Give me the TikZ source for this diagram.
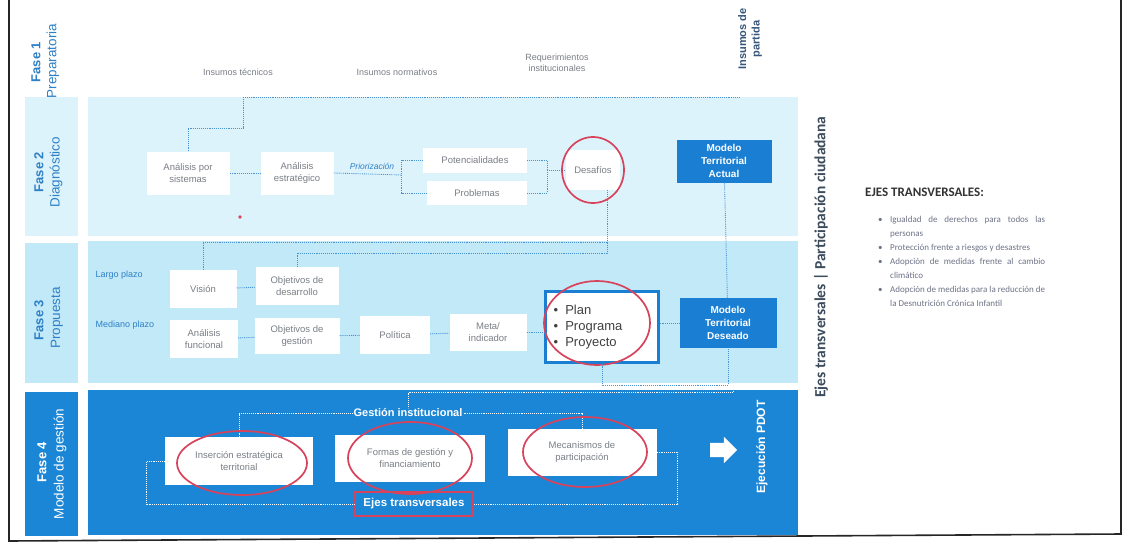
\documentclass[tikz,border=0pt]{standalone}
\usepackage{fontspec}
\setmainfont{Liberation Sans}
\newfontfamily\carl{Carlito}
\usetikzlibrary{shapes.arrows}
\definecolor{bandA}{HTML}{DDF3FB}
\definecolor{bandB}{HTML}{C2E9F8}
\definecolor{bandC}{HTML}{1C86D6}
\definecolor{mblue}{HTML}{1A7ED2}
\definecolor{lblue}{HTML}{2E80C6}
\definecolor{ringred}{HTML}{D8435C}
\definecolor{boxtxt}{HTML}{7A7F86}
\definecolor{connc}{HTML}{4A93D2}
\definecolor{slate}{HTML}{3C4C5C}
\definecolor{partc}{HTML}{35557A}
\definecolor{bullt}{HTML}{6E7386}
\begin{document}
\begin{tikzpicture}[x=1pt,y=-1pt,
  box/.style={fill=white, align=center, inner sep=1pt, font=\fontsize{9.5}{12}\selectfont, text=boxtxt},
  model/.style={fill=mblue, text=white, align=center, font=\bfseries\fontsize{10}{13}\selectfont, inner sep=0pt},
  conn/.style={draw=connc, densely dotted, line width=0.9pt},
  wconn/.style={draw=white, densely dotted, line width=0.9pt},
  ring/.style={draw=ringred, line width=1.7pt},
  phb/.style={rotate=90, font=\bfseries\fontsize{13}{15}\selectfont},
  phr/.style={rotate=90, font=\fontsize{13.5}{15}\selectfont},
  intext/.style={font=\fontsize{9}{11}\selectfont, text=boxtxt, align=center},
  horiz/.style={font=\fontsize{9}{11}\selectfont, text=lblue, anchor=west},
  wbold/.style={text=white, font=\bfseries\fontsize{11}{13}\selectfont, inner sep=1pt}
]
\clip (0,0) rectangle (1125,552);
\fill[white] (0,0) rectangle (1125,552);
% frame
\draw[line width=1.6pt, black!85] (9,-5) -- (9,541) -- (1121,534) -- (1121,-5);

% bands
\fill[bandA] (25,97) rectangle (78,236);
\fill[bandA] (88,97) rectangle (798,236);
\fill[bandB] (25,243) rectangle (78,383);
\fill[bandB] (88,241) rectangle (798,383);
\fill[bandC] (25,392) rectangle (78,536);
\fill[bandC] (88,390) rectangle (798,535);

% phase labels
\node[phb, text=lblue] (f1a) at (36,62) {Fase 1};
\node[phr, text=lblue] (f1b) at (53,61) {Preparatoria};
\node[phb, text=lblue] (f2a) at (39,172) {Fase 2};
\node[phr, text=lblue] (f2b) at (56,172) {Diagnóstico};
\node[phb, text=lblue] (f3a) at (39,320) {Fase 3};
\node[phr, text=lblue] (f3b) at (57,318) {Propuesta};
\node[phb, text=white] (f4a) at (42,462) {Fase 4};
\node[phr, text=white] (f4b) at (60,464) {Modelo de gestión};

% phase 1 inputs
\node[intext] (itec) at (238,72) {Insumos técnicos};
\node[intext] (inor) at (397,72) {Insumos normativos};
\node[intext] (ireq) at (557,63) {Requerimientos\\institucionales};
\node[rotate=90, align=center, text=partc, font=\bfseries\fontsize{11}{13.5}\selectfont] (ipar) at (750,39) {Insumos de\\partida};
\coordinate (j1) at (243,97);
\coordinate (j2) at (740,97);

% phase 2
\node[box, minimum width=83, minimum height=43] (asis) at (188,173) {Análisis por\\sistemas};
\node[box, minimum width=73, minimum height=43] (aest) at (297,173) {Análisis\\estratégico};
\node[text=lblue, font=\itshape\fontsize{8.5}{10}\selectfont, inner sep=1pt] (prio) at (372,166) {Priorización};
\node[box, minimum width=104, minimum height=25] (pot) at (475,160) {Potencialidades};
\node[box, minimum width=100, minimum height=24] (prob) at (477,193) {Problemas};
\node[box, fill=white, minimum width=54, minimum height=40] (des) at (593,170) {Desafíos};
\node[model, minimum width=95, minimum height=43] (mta) at (724,161) {Modelo\\Territorial\\Actual};
\fill[ringred] (240,217) circle (1.8);

\draw[conn] (j1) -- (j2);
\draw[conn] (j1) -- (243,128) -| (asis.north);
\draw[conn] (asis) -- (aest);
\draw[conn] (aest.east) -- (402,175);
\draw[conn] (pot.west) -- ++(-21,0) |- (prob.west);
\draw[conn] (pot.east) -- ++(20,0) coordinate (b2) |- (prob.east);
\draw[conn] (b2 |- des.west) -- (des.west);
\draw[ring] (des.center) ellipse [x radius=31, y radius=33];

% phase 3
\node[horiz] (lp) at (92,275) {Largo plazo};
\node[horiz] (mp) at (92,325) {Mediano plazo};
\node[box, minimum width=67, minimum height=38] (vis) at (203,289) {Visión};
\node[box, minimum width=83, minimum height=38] (obd) at (297,286) {Objetivos de\\desarrollo};
\node[box, minimum width=68, minimum height=38] (afun) at (204,339) {Análisis\\funcional};
\node[box, minimum width=85, minimum height=36] (obg) at (297,336) {Objetivos de\\gestión};
\node[box, minimum width=70, minimum height=38] (pol) at (395,335) {Política};
\node[box, minimum width=77, minimum height=37] (meta) at (488,332) {Meta/\\indicador};
\node[draw=mblue, line width=2.2pt, fill=white, minimum width=113, minimum height=71, inner sep=0pt] (plan) at (602,327) {};
\node[anchor=west, align=left, text=black!75, font=\fontsize{13}{16}\selectfont] (plist) at (550,327) {\textbullet\ \ Plan\\\textbullet\ \ Programa\\\textbullet\ \ Proyecto};
\node[model, minimum width=97, minimum height=50] (mtd) at (728,323) {Modelo\\Territorial\\Deseado};

\draw[conn] (des.south -| 607,0) -- (607,253) -| (obd.north);
\draw[conn] (607,242) -| (vis.north);
\draw[conn] (mta) -- (mtd);
\draw[conn] (vis) -- (obd);
\draw[conn] (afun) -- (obg);
\draw[conn] (obg) -- (pol);
\draw[conn] (pol) -- (meta);
\draw[conn] (meta.east) -- (plan.west |- meta.east);
\draw[conn] (plan.east |- mtd.west) -- (mtd.west);
\draw[ring] ([xshift=-5pt, yshift=4pt]plan.center) ellipse [x radius=53, y radius=42];
\draw[conn] (plan.south) -- (602,385) -| (mtd.south);

% phase 4
\node[wbold] (gi) at (408,413) {Gestión institucional};
\node[box, minimum width=148, minimum height=48] (ins) at (239,461) {Inserción estratégica\\territorial};
\node[box, minimum width=150, minimum height=47] (form) at (410,458) {Formas de gestión y\\financiamiento};
\node[box, minimum width=149, minimum height=47] (mec) at (582,452) {Mecanismos de\\participación};
\node[wbold, draw=ringred, line width=1.5pt, minimum width=118, minimum height=24, font=\bfseries\fontsize{11.5}{13}\selectfont] (ejes) at (414,504) {Ejes transversales};
\node[single arrow, fill=white, inner xsep=0pt, inner ysep=7pt, minimum height=27pt, single arrow head extend=6pt, single arrow head indent=0pt] (arr) at (720,450) {};
\node[rotate=90, text=white, font=\bfseries\fontsize{12}{14}\selectfont] (ejec) at (762,447) {Ejecución PDOT};

\draw[wconn] (733,385) -- (733,392) -| (gi.north);
\draw[wconn] (gi.west) -| (ins.north);
\draw[wconn] (gi.east) -| (mec.north);
\draw[wconn] (ins.west) -- ++(-18,0) |- (ejes.west);
\draw[wconn] (mec.east) -- ++(21,0) |- (ejes.east);
\draw[ring] ([xshift=3pt, yshift=-2pt]ins.center) ellipse [x radius=65, y radius=32];
\draw[ring] (form.center) ellipse [x radius=62, y radius=36];
\draw[ring] ([xshift=3pt]mec.center) ellipse [x radius=62, y radius=35];

% right side
\node[rotate=90, text=slate, font=\carl\bfseries\fontsize{15.5}{17}\selectfont] (ejv) at (821,257) {Ejes transversales | Participación ciudadana};
\node[anchor=west, text=black!80, font=\carl\bfseries\fontsize{13}{15}\selectfont, inner sep=0pt] (ejt) at (865,192) {EJES TRANSVERSALES:};
\node[anchor=north west, text width=167pt, align=justify, inner sep=0pt, text=bullt, font=\carl\fontsize{9}{14}\selectfont] (lst) at (878,216) {%
\hyphenpenalty=10000\exhyphenpenalty=10000\tolerance=9999\emergencystretch=20pt
\hangindent=12pt\hangafter=1\noindent\makebox[12pt][l]{\textbullet}Igualdad de derechos para todos las personas\par
\hangindent=12pt\hangafter=1\noindent\makebox[12pt][l]{\textbullet}Protección frente a riesgos y desastres\par
\hangindent=12pt\hangafter=1\noindent\makebox[12pt][l]{\textbullet}Adopción de medidas frente al cambio climático\par
\hangindent=12pt\hangafter=1\noindent\makebox[12pt][l]{\textbullet}Adopción de medidas para la reducción de la Desnutrición Crónica Infantil\par};
\end{tikzpicture}
\end{document}
